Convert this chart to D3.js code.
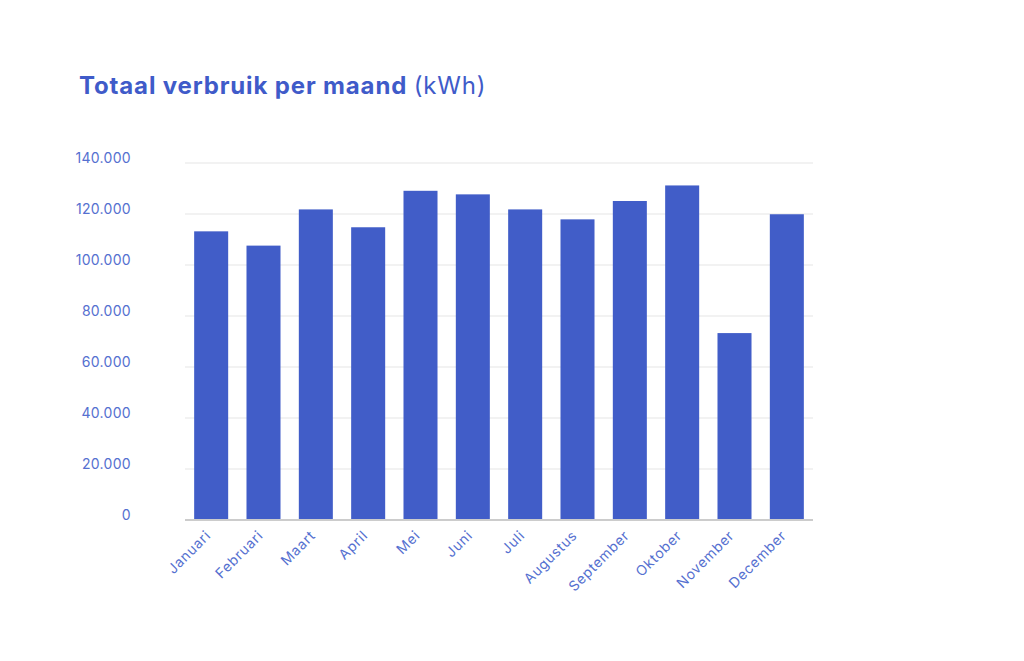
<!DOCTYPE html>
<html><head><meta charset="utf-8">
<script src="https://cdn.jsdelivr.net/npm/d3@7"></script>
<style>body{margin:0;background:#fff;}svg{display:block;}</style>
</head><body>
<svg id="c" width="1024" height="661"></svg>
<script>
const months = ["Januari","Februari","Maart","April","Mei","Juni","Juli","Augustus","September","Oktober","November","December"];
const values = [113200,107600,121800,114800,129100,127700,121800,117900,125100,131200,73300,119900];
const yTicks = [0,20000,40000,60000,80000,100000,120000,140000];
const tickLabels = ["0","20.000","40.000","60.000","80.000","100.000","120.000","140.000"];

(function(){
const svg = d3.select("#c");
const font = "Inter, 'Noto Sans', sans-serif";
const mLeft = 185, mRight = 813, mTop = 163, mBottom = 520;
const x = d3.scaleBand().domain(months).range([mLeft, mRight]).paddingInner(0.35).paddingOuter(0.175);
const y = d3.scaleLinear().domain([0,140000]).range([mBottom, mTop]);

// title
const t = svg.append("text").attr("x",79).attr("y",94).attr("font-family",font).attr("font-size",24)
  .attr("letter-spacing","0.85px").attr("fill","#3f5bc9");
t.append("tspan").attr("font-weight",700).text("Totaal verbruik per maand ");
t.append("tspan").attr("font-weight",400).text("(kWh)");

// y axis labels
const yAxis = d3.axisLeft(y).tickValues(yTicks).tickSize(0).tickFormat((d,i)=>tickLabels[i]);
const gy = svg.append("g").attr("transform",`translate(${mLeft},0)`).call(yAxis);
gy.select(".domain").remove();
gy.selectAll("text").attr("x",-54).attr("dy","-0.05em").attr("font-family",font).attr("font-size",14)
  .attr("letter-spacing","0.3px").attr("fill","#5570d0");
// grid
svg.append("g").selectAll("line").data(yTicks.filter(d=>d>0)).join("line")
  .attr("x1",mLeft).attr("x2",mRight).attr("y1",d=>y(d)).attr("y2",d=>y(d))
  .attr("stroke","#e5e5e5").attr("stroke-width",1);

// bars
svg.append("g").selectAll("rect").data(values).join("rect")
  .attr("x",(d,i)=>x(months[i])).attr("width",x.bandwidth())
  .attr("y",d=>y(d)).attr("height",d=>mBottom-y(d))
  .attr("fill","#415dc8");

// baseline
svg.append("line").attr("x1",mLeft).attr("x2",mRight).attr("y1",mBottom).attr("y2",mBottom).attr("stroke","#cccccc").attr("stroke-width",2);

// x axis
const xAxis = d3.axisBottom(x).tickSize(0);
const gx = svg.append("g").attr("transform",`translate(0,${mBottom})`).call(xAxis);
gx.select(".domain").remove();
gx.selectAll("text").attr("font-family",font).attr("font-size",14).attr("fill","#5570d0")
  .attr("letter-spacing","0.7px")
  .attr("text-anchor","end").attr("transform","translate(-3,13) rotate(-45)").attr("dy","0.35em").attr("y",0);
})();
</script>
</body></html>
